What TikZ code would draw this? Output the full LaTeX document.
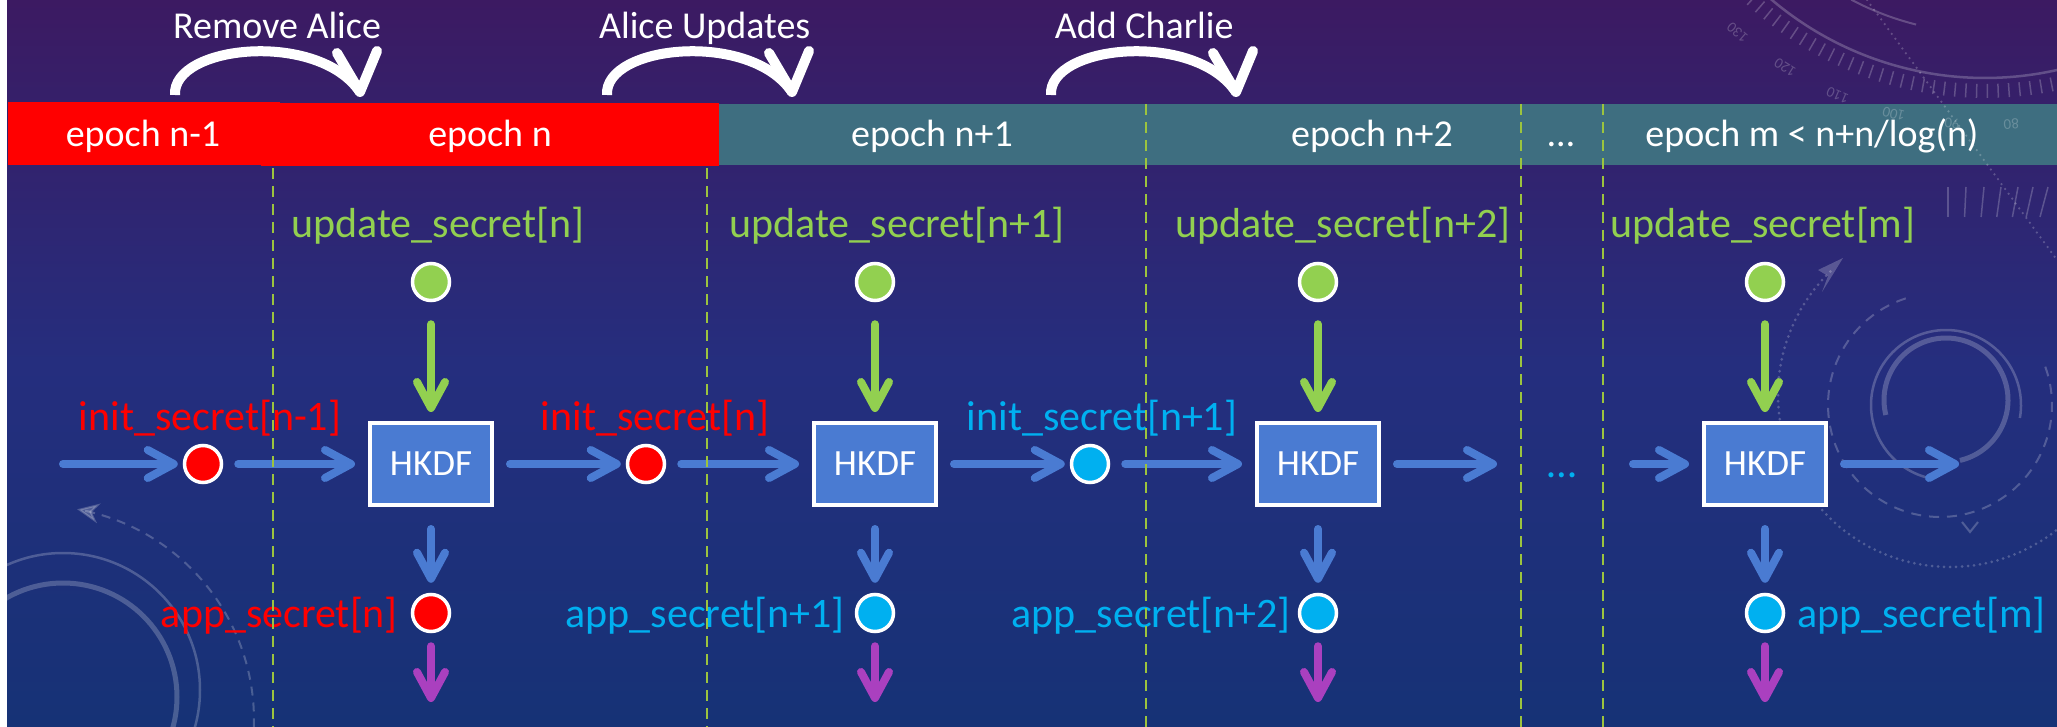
\documentclass[tikz,border=0pt]{standalone}
\usepackage{fontspec}
\setmainfont{Carlito}
\usetikzlibrary{arrows.meta}

\definecolor{bgtop}{HTML}{3C1A62}
\definecolor{bgmid}{HTML}{252E7E}
\definecolor{bgbot}{HTML}{163276}
\definecolor{epred}{HTML}{FF0000}
\definecolor{epteal}{HTML}{3E6E80}
\definecolor{hkblue}{HTML}{4A7BD2}
\definecolor{updgreen}{HTML}{92D050}
\definecolor{appcyan}{HTML}{00B0F0}
\definecolor{outpurple}{HTML}{AA40BF}
\definecolor{divgreen}{HTML}{9CC43E}

\begin{document}
\begin{tikzpicture}[x=1pt,y=-1pt,
  deco/.style={draw=white, opacity=0.22},
  decotext/.style={text=white, text opacity=0.22, inner sep=0pt, font=\fontsize{15}{15}\selectfont},
  flow/.style={line width=8pt, line cap=round, -{Straight Barb[length=26pt,width=28pt,round]}},
  bluearrow/.style={flow, draw=hkblue},
  greenarrow/.style={flow, draw=updgreen},
  purplearrow/.style={flow, draw=outpurple},
  secret/.style={circle, draw=white, line width=3.5pt, minimum size=37pt, inner sep=0pt},
  hkdf/.style={draw=white, line width=4pt, fill=hkblue, minimum width=122pt, minimum height=82pt,
    inner sep=0pt, text=white, font=\fontsize{37}{37}\selectfont},
  lbl/.style={inner sep=0pt, font=\fontsize{42}{42}\selectfont},
  barlabel/.style={anchor=base, inner sep=0pt, text=white, font=\fontsize{38}{38}\selectfont},
  toparrow/.style={draw=white, line width=10pt},
  topbarb/.style={draw=white, line width=10pt, line cap=round, line join=round},
  divider/.style={draw=divgreen, line width=2.5pt, dash pattern=on 11pt off 7pt}
]
\useasboundingbox (0,0) rectangle (2057,727);

% backdrop
\fill[top color=bgtop, bottom color=bgbot, middle color=bgmid] (0,0) rectangle (2057,727);
\fill[white] (0,0) rectangle (7,727);

% faint ornaments, lower left and right
\begin{scope}
  \clip (7,0) rectangle (2057,727);
  \draw[deco, line width=5pt] (63,697) circle[radius=114pt];
  \draw[deco, line width=2.5pt] (63,690) circle[radius=137pt];
  \draw[deco, line width=2pt, dash pattern=on 9pt off 7pt, -{Stealth[length=22pt,width=20pt]}]
    plot[domain=0:82, samples=60] ({40+214*cos(2-\x)},{720+214*sin(2-\x)});

  \draw[deco, line width=5pt] plot[domain=166:437, samples=90] ({1946+62*cos(\x)},{400+62*sin(\x)});
  \draw[deco, line width=2.5pt] plot[domain=-260:10, samples=90] ({1946+75*cos(\x)},{405+75*sin(\x)});
  \draw[deco, line width=2pt, dash pattern=on 10pt off 8pt] plot[domain=-20:255, samples=90] ({1940+112*cos(\x)},{405+112*sin(\x)});
  \draw[deco, line width=2pt] (1962,522) -- (1970,532) -- (1978,522);
  \draw[deco, line width=3pt, line cap=round, dash pattern=on 0pt off 6pt] plot[domain=52:226, samples=90] ({1950+172*cos(\x)},{395+172*sin(\x)});
  \draw[deco, draw=none, fill=white, fill opacity=0.22] (1843,258) -- (1818,270) -- (1828,276) -- (1822,292) -- cycle;
  \foreach \x in {1948,1966,1984,2001,2018,2033,2048}
    \draw[deco, line width=1.5pt] (\x,187) -- (\x-0.08*\x+0.08*1948,217);
\end{scope}

% epoch bar
\fill[epred] (8,102) rectangle (280,165);
\fill[epred] (261,103) rectangle (719,166);
\fill[epteal] (719,104) rectangle (2057,165);

% faint dial, top right (shows over the bar)
\begin{scope}
  \clip (7,0) rectangle (2057,727);
  \draw[deco, line width=2.5pt, line cap=round, dash pattern=on 0pt off 6pt] (1867,0) -- (2057,260);
  \draw[deco, line width=2.5pt] plot[domain=55:135, samples=80] ({1985+330*cos(\x)},{-252+330*sin(\x)});
  \draw[deco, line width=2pt] plot[domain=104:118, samples=30] ({1985+285*cos(\x)},{-252+285*sin(\x)});
  \foreach \a in {50,51.8,...,140}
    \draw[deco, line width=1.5pt] ({1985+336*cos(\a)},{-252+336*sin(\a)}) -- ({1985+350*cos(\a)},{-252+350*sin(\a)});
  \foreach \v in {80,90,...,130} {
    \pgfmathsetmacro\ang{86+(\v-80)*0.9}
    \node[decotext, rotate={-\ang-90}] (dial\v) at ({1985+377*cos(\ang)},{-252+377*sin(\ang)}) {\v};
  }
\end{scope}

\node[barlabel] (ep0) at (143,147) {epoch n-1};
\node[barlabel] (ep1) at (490,147) {epoch n};
\node[barlabel] (ep2) at (932,147) {epoch n+1};
\node[barlabel] (ep3) at (1372,147) {epoch n+2};
\node[barlabel] (ep4) at (1561,147) {…};
\node[barlabel] (ep5) at (1812,147) {epoch m < n+n/log(n)};

% membership changes above the bar
\foreach \dx/\nm/\txt in {0/ra/Remove Alice, 432/au/Alice Updates, 876/ac/Add Charlie} {
  \node[barlabel] (\nm) at (277+\dx*0.99,39) {\txt};
  \coordinate (\nm-from) at (175+\dx,95);
  \coordinate (\nm-tip) at (360+\dx,92);
  \coordinate (\nm-armL) at (337+\dx,53);
  \coordinate (\nm-armR) at (377+\dx,51);
  \draw[toparrow] (\nm-from) .. controls +(-3,-50) and +(-42,-62) .. (\nm-tip);
  \draw[topbarb] (\nm-armL) -- (\nm-tip) -- (\nm-armR);
}

% key schedule nodes
\node[secret, fill=epred] (i0) at (203,464) {};
\node[secret, fill=epred] (i1) at (646,464) {};
\node[secret, fill=appcyan] (i2) at (1090,464) {};

\foreach \k/\c in {1/431, 2/875, 3/1318, 4/1765} {
  \node[hkdf] (h\k) at (\c,464) {HKDF};
  \node[secret, fill=updgreen] (u\k) at (\c,282) {};
  \coordinate (o\k) at (\c,702);
}
\node[secret, fill=epred] (a1) at (431,613) {};
\node[secret, fill=appcyan] (a2) at (875,613) {};
\node[secret, fill=appcyan] (a3) at (1318,613) {};
\node[secret, fill=appcyan] (a4) at (1765,613) {};

% labels
\node[lbl, text=updgreen, anchor=base] (lu1) at (438,238) {update\_secret[n]};
\node[lbl, text=updgreen, anchor=base] (lu2) at (897,238) {update\_secret[n+1]};
\node[lbl, text=updgreen, anchor=base] (lu3) at (1343,238) {update\_secret[n+2]};
\node[lbl, text=updgreen, anchor=base] (lu4) at (1763,238) {update\_secret[m]};
\node[lbl, text=epred, anchor=base] (li0) at (210,430) {init\_secret[n-1]};
\node[lbl, text=epred, anchor=base] (li1) at (655,430) {init\_secret[n]};
\node[lbl, text=appcyan, anchor=base] (li2) at (1102,430) {init\_secret[n+1]};
\node[lbl, text=epred, anchor=base east] (la1) at (398,627) {app\_secret[n]};
\node[lbl, text=appcyan, anchor=base east] (la2) at (845,627) {app\_secret[n+1]};
\node[lbl, text=appcyan, anchor=base east] (la3) at (1291,627) {app\_secret[n+2]};
\node[lbl, text=appcyan, anchor=base west] (la4) at (1797,627) {app\_secret[m]};
\node[lbl, text=appcyan, anchor=base] (gap) at (1562,477) {…};

% chain of init secrets
\coordinate (s0) at (63,464);
\coordinate (e3) at (1497,464);
\coordinate (s4) at (1633,464);
\coordinate (e4) at (1959,464);
\draw[bluearrow, shorten >=5pt] (s0) -- (i0);
\draw[bluearrow, shorten <=15pt, shorten >=13pt] (i0) -- (h1);
\draw[bluearrow, shorten <=16pt, shorten >=5pt] (h1) -- (i1);
\draw[bluearrow, shorten <=15pt, shorten >=13pt] (i1) -- (h2);
\draw[bluearrow, shorten <=16pt, shorten >=5pt] (h2) -- (i2);
\draw[bluearrow, shorten <=15pt, shorten >=13pt] (i2) -- (h3);
\draw[bluearrow, shorten <=16pt] (h3) -- (e3);
\draw[bluearrow, shorten >=13pt] (s4) -- (h4);
\draw[bluearrow, shorten <=16pt] (h4) -- (e4);

% per-epoch inputs and outputs
\foreach \k in {1,2,3,4} {
  \draw[greenarrow, shorten <=22pt, shorten >=9pt] (u\k) -- (h\k);
  \draw[bluearrow, shorten <=22pt, shorten >=10pt] (h\k) -- (a\k);
  \draw[purplearrow, shorten <=13pt] (a\k) -- (o\k);
}

% epoch boundaries
\foreach \x/\y [count=\i] in {273/168, 707/168, 1146/104, 1521/104, 1603/104}
  \draw[divider] (\x,\y) coordinate (b\i) -- (\x,727);
\end{tikzpicture}
\end{document}
